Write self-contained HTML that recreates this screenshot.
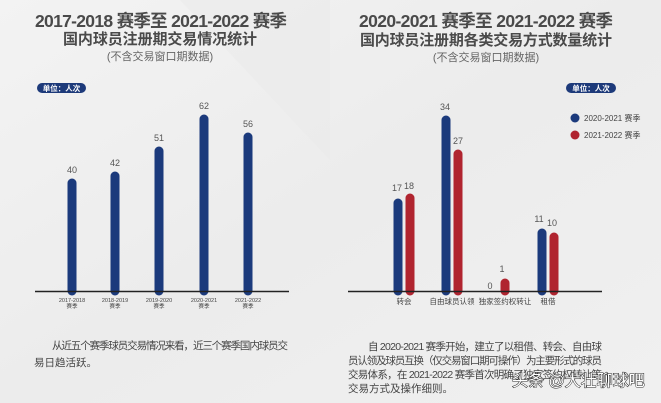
<!DOCTYPE html>
<html><head><meta charset="utf-8"><style>
html,body{margin:0;padding:0;background:#efefef}
svg{display:block}
text{font-family:"Liberation Sans","Noto Sans CJK SC",sans-serif}
</style></head><body>
<svg width="661" height="403" viewBox="0 0 661 403">
<defs>
<linearGradient id="bg" x1="0" y1="0" x2="1" y2="1">
<stop offset="0" stop-color="#f3f3f3"/><stop offset="0.5" stop-color="#ececec"/><stop offset="1" stop-color="#f0f0f0"/>
</linearGradient>
</defs>
<rect width="661" height="403" fill="url(#bg)"/>
<polygon points="180,0 330,0 330,160" fill="#e9e9e9" opacity="0.5"/>
<!-- Left titles -->
<text x="161" y="27" font-size="17.5" font-weight="bold" fill="#4a4a4a" text-anchor="middle" textLength="252">2017-2018 赛季至 2021-2022 赛季</text>
<text x="160" y="44" font-size="15" font-weight="bold" fill="#4a4a4a" text-anchor="middle" textLength="194">国内球员注册期交易情况统计</text>
<text x="160" y="60" font-size="11" fill="#666" text-anchor="middle">(不含交易窗口期数据)</text>
<rect x="37" y="83" width="49" height="10" rx="5" fill="#1d3a7a"/>
<text x="61.5" y="91" font-size="7.5" fill="#fff" text-anchor="middle" font-weight="bold">单位：人次</text>
<!-- Left bars -->
<g stroke="#1b3a7c" stroke-width="9" stroke-linecap="round">
<line x1="72" y1="183" x2="72" y2="291"/>
<line x1="115" y1="176" x2="115" y2="291"/>
<line x1="159" y1="151" x2="159" y2="291"/>
<line x1="204" y1="119" x2="204" y2="291"/>
<line x1="248" y1="137" x2="248" y2="291"/>
</g>
<g font-size="9" fill="#555" text-anchor="middle">
<text x="72" y="173">40</text><text x="115" y="166">42</text><text x="159" y="141">51</text><text x="204" y="109">62</text><text x="248" y="127">56</text>
</g>
<line x1="35" y1="291.5" x2="289" y2="291.5" stroke="#222" stroke-width="1.6"/>
<g font-size="5.5" fill="#444" text-anchor="middle">
<text x="72" y="302">2017-2018</text><text x="72" y="308">赛季</text>
<text x="115" y="302">2018-2019</text><text x="115" y="308">赛季</text>
<text x="159" y="302">2019-2020</text><text x="159" y="308">赛季</text>
<text x="204" y="302">2020-2021</text><text x="204" y="308">赛季</text>
<text x="248" y="302">2021-2022</text><text x="248" y="308">赛季</text>
</g>
<text x="52" y="349" font-size="10.5" fill="#444" textLength="236">从近五个赛季球员交易情况来看，近三个赛季国内球员交</text>
<text x="34" y="366" font-size="10.5" fill="#444">易日趋活跃。</text>
<!-- Right titles -->
<text x="486" y="27" font-size="17.5" font-weight="bold" fill="#4a4a4a" text-anchor="middle" textLength="254">2020-2021 赛季至 2021-2022 赛季</text>
<text x="486" y="45" font-size="15" font-weight="bold" fill="#4a4a4a" text-anchor="middle" textLength="252">国内球员注册期各类交易方式数量统计</text>
<text x="486" y="61" font-size="11" fill="#666" text-anchor="middle">(不含交易窗口期数据)</text>
<rect x="566" y="83" width="50" height="10" rx="5" fill="#1d3a7a"/>
<text x="591" y="91" font-size="7.5" fill="#fff" text-anchor="middle" font-weight="bold">单位：人次</text>
<circle cx="575" cy="118" r="4.5" fill="#1b3a7c"/>
<circle cx="575" cy="135" r="4.5" fill="#b0242f"/>
<text x="584" y="121" font-size="8" fill="#444">2020-2021 赛季</text>
<text x="584" y="138" font-size="8" fill="#444">2021-2022 赛季</text>
<g stroke-width="9" stroke-linecap="round">
<line x1="398" y1="203" x2="398" y2="291" stroke="#1b3a7c"/>
<line x1="410" y1="198" x2="410" y2="291" stroke="#b0242f"/>
<line x1="446" y1="120" x2="446" y2="291" stroke="#1b3a7c"/>
<line x1="458" y1="154" x2="458" y2="291" stroke="#b0242f"/>
<line x1="505" y1="283" x2="505" y2="291" stroke="#b0242f"/>
<line x1="542" y1="233" x2="542" y2="291" stroke="#1b3a7c"/>
<line x1="554" y1="237" x2="554" y2="291" stroke="#b0242f"/>
</g>
<g font-size="9" fill="#555" text-anchor="middle">
<text x="397" y="191">17</text><text x="409" y="189">18</text>
<text x="445" y="110">34</text><text x="458" y="144">27</text>
<text x="490" y="289">0</text><text x="502" y="272">1</text>
<text x="539" y="222">11</text><text x="552" y="226">10</text>
</g>
<line x1="348" y1="291.5" x2="602" y2="291.5" stroke="#222" stroke-width="1.6"/>
<g font-size="7.5" fill="#444" text-anchor="middle">
<text x="404" y="304">转会</text><text x="452" y="304">自由球员认领</text><text x="505" y="304">独家签约权转让</text><text x="548" y="304">租借</text>
</g>
<g font-size="10.5" fill="#444">
<text x="368" y="350" textLength="234">自 2020-2021 赛季开始，建立了以租借、转会、自由球</text>
<text x="348" y="364" textLength="254">员认领及球员互换（仅交易窗口期可操作）为主要形式的球员</text>
<text x="348" y="378" textLength="254">交易体系，在 2021-2022 赛季首次明确了独家签约权转让等</text>
<text x="348" y="392">交易方式及操作细则。</text>
</g>
<text x="512" y="386" font-size="16" fill="#fff" stroke="#222" stroke-width="1" paint-order="stroke">头条 @大壮聊球吧</text>
</svg>
</body></html>
